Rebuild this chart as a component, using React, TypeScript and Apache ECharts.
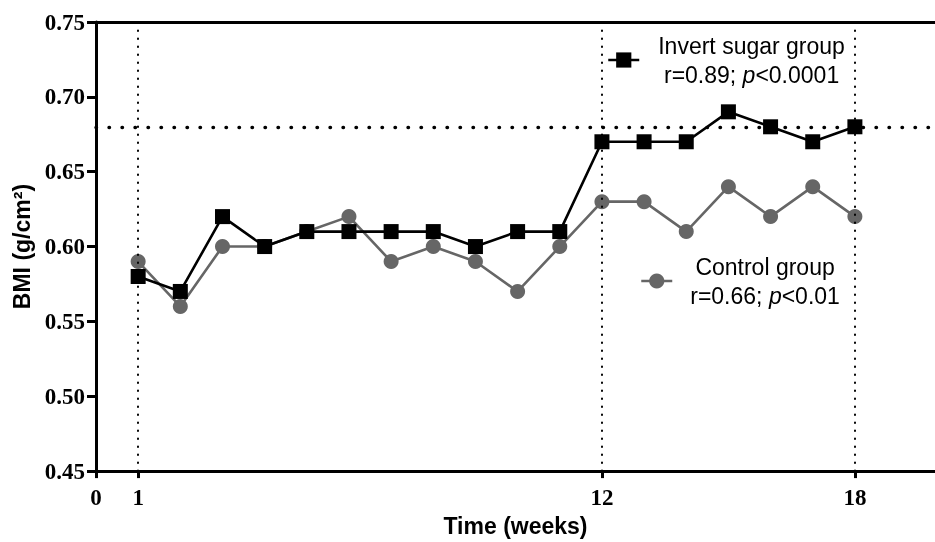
import React, { useEffect, useRef } from "react";
import * as echarts from "echarts";

const weeks = [1, 2, 3, 4, 5, 6, 7, 8, 9, 10, 11, 12, 13, 14, 15, 16, 17, 18];
const invertSugar = [0.58, 0.57, 0.62, 0.6, 0.61, 0.61, 0.61, 0.61, 0.6, 0.61, 0.61, 0.67, 0.67, 0.67, 0.69, 0.68, 0.67, 0.68];
const controlGroup = [0.59, 0.56, 0.6, 0.6, 0.61, 0.62, 0.59, 0.6, 0.59, 0.57, 0.6, 0.63, 0.63, 0.61, 0.64, 0.62, 0.64, 0.62];
const xTickValues = [0, 1, 12, 18];
const verticalRefWeeks = [1, 12, 18];
const horizontalRef = 0.68;

const SANS = "Liberation Sans, Arial, sans-serif";
const SERIF = "Liberation Serif, Times New Roman, serif";

export default function App() {
  const ref = useRef<HTMLDivElement>(null);
  useEffect(() => {
    if (!ref.current) return;
    const chart = echarts.init(ref.current, null, { renderer: "svg" });
    const richBase = { fontFamily: SANS, fontSize: 23, lineHeight: 29, color: "#000", align: "center" as const };
    const rich = { a: { ...richBase }, i: { ...richBase, fontStyle: "italic" as const } };
    chart.setOption({
      animation: false,
      grid: { left: 96, right: 0, top: 22, bottom: 69, containLabel: false },
      legend: [
        {
          data: ["Invert sugar group"],
          left: 607,
          top: 34,
          padding: 0,
          itemWidth: 31,
          itemHeight: 19,
          selectedMode: false,
          lineStyle: { width: 2.5, color: "#000" },
          formatter: () => "{a|Invert sugar group}\n{a|r=0.89; }{i|p}{a|<0.0001}",
          textStyle: { padding: [0, 0, 0, 14], rich },
        },
        {
          data: ["Control group"],
          left: 640,
          top: 255,
          padding: 0,
          itemWidth: 31,
          itemHeight: 19,
          selectedMode: false,
          lineStyle: { width: 2.5, color: "#666666" },
          formatter: () => "{a|Control group}\n{a|r=0.66; }{i|p}{a|<0.01}",
          textStyle: { padding: [0, 0, 0, 13], rich },
        },
      ],
      xAxis: [
        {
          type: "value",
          min: 0,
          max: 19.9,
          name: "Time (weeks)",
          nameLocation: "middle",
          nameGap: 36,
          nameTextStyle: { fontFamily: SANS, fontWeight: "bold", fontSize: 23, color: "#000" },
          axisLine: { show: true, onZero: false, lineStyle: { color: "#000", width: 3 } },
          axisTick: { show: true, inside: false, length: 7, lineStyle: { color: "#000", width: 3 }, customValues: xTickValues },
          axisLabel: { show: true, margin: 15, fontFamily: SERIF, fontWeight: "bold", fontSize: 23, color: "#000", customValues: xTickValues },
          splitLine: { show: false },
        },
        {
          type: "value",
          position: "top",
          min: 0,
          max: 19.9,
          axisLine: { show: true, onZero: false, lineStyle: { color: "#000", width: 3 } },
          axisTick: { show: false },
          axisLabel: { show: false },
          splitLine: { show: false },
        },
      ],
      yAxis: {
        type: "value",
        min: 0.45,
        max: 0.75,
        interval: 0.05,
        name: "BMI (g/cm²)",
        nameLocation: "middle",
        nameGap: 60,
        nameTextStyle: { fontFamily: SANS, fontWeight: "bold", fontSize: 23, color: "#000" },
        axisLine: { show: true, onZero: false, lineStyle: { color: "#000", width: 3 } },
        axisTick: { show: true, inside: false, length: 9, lineStyle: { color: "#000", width: 3 } },
        axisLabel: {
          margin: 11,
          fontFamily: SERIF,
          fontWeight: "bold",
          fontSize: 23,
          color: "#000",
          formatter: (v: number) => v.toFixed(2),
        },
        splitLine: { show: false },
      },
      series: [
        {
          name: "Control group",
          type: "line",
          data: weeks.map((w, i) => [w, controlGroup[i]]),
          symbol: "circle",
          symbolSize: 15,
          itemStyle: { color: "#666666" },
          lineStyle: { color: "#666666", width: 2.6 },
          z: 3,
        },
        {
          name: "Invert sugar group",
          type: "line",
          data: weeks.map((w, i) => [w, invertSugar[i]]),
          symbol: "rect",
          symbolSize: 15,
          itemStyle: { color: "#000000" },
          lineStyle: { color: "#000000", width: 2.6 },
          z: 4,
          markLine: {
            silent: true,
            symbol: "none",
            label: { show: false },
            data: [
              ...verticalRefWeeks.map((w) => ({
                xAxis: w,
                lineStyle: { color: "#000", width: 2, type: [0.5, 7.5], cap: "round" },
              })),
              {
                yAxis: horizontalRef,
                lineStyle: { color: "#000", width: 3.4, type: [0.5, 12.5], cap: "round" },
              },
            ],
          },
        },
      ],
    });
    return () => chart.dispose();
  }, []);
  return <div ref={ref} style={{ position: "fixed", left: 0, top: 0, width: 935, height: 542 }} />;
}
